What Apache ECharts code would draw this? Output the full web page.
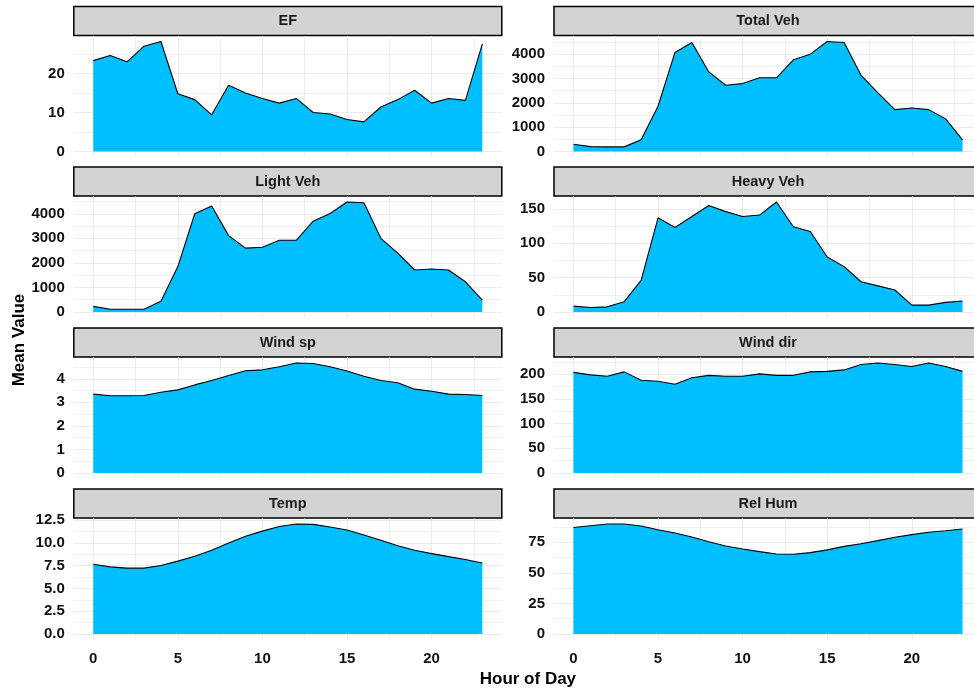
<!DOCTYPE html>
<html><head><meta charset="utf-8">
<script src="https://cdn.jsdelivr.net/npm/echarts@6/dist/echarts.min.js"></script>
<style>html,body{margin:0;padding:0;background:#fff;overflow:hidden}#c{width:1000px;height:691px}</style>
</head><body><div id="c"></div>
<script>
// ---- data ----
const hours = [0,1,2,3,4,5,6,7,8,9,10,11,12,13,14,15,16,17,18,19,20,21,22,23];
const panelNames = ['EF','Total Veh','Light Veh','Heavy Veh','Wind sp','Wind dir','Temp','Rel Hum'];
const ef = [23.3,24.6,23.0,27.0,28.2,14.8,13.3,9.4,17.0,15.0,13.6,12.4,13.6,10.0,9.6,8.2,7.6,11.4,13.3,15.7,12.4,13.6,13.1,27.6];
const totalVeh = [300,200,190,190,480,1860,4070,4480,3270,2720,2790,3030,3030,3770,4000,4520,4480,3130,2410,1720,1790,1720,1340,480];
const lightVeh = [230,110,110,110,440,1850,4000,4320,3110,2600,2640,2920,2920,3700,4010,4480,4450,3000,2400,1710,1750,1710,1230,480];
const heavyVeh = [8.5,6.5,7.5,15,46,137,123,139,155,146,139,141,160,124,117,80,66,44,38,32,10,10,14,16];
const windSp = [3.35,3.28,3.28,3.29,3.43,3.53,3.74,3.93,4.14,4.34,4.38,4.51,4.67,4.65,4.51,4.33,4.11,3.93,3.83,3.56,3.47,3.35,3.33,3.29];
const windDir = [204,199,196,205,188,186,180,193,198,196,196,201,198,198,205,206,209,220,223,220,216,223,216,206];
const temp = [7.66,7.37,7.23,7.23,7.52,8.0,8.54,9.2,10.0,10.73,11.3,11.8,12.08,12.04,11.75,11.42,10.88,10.3,9.7,9.2,8.83,8.5,8.18,7.8];
const relHum = [87.2,88.6,90.0,90.0,88.3,85.3,82.6,79.3,75.5,72.0,69.6,67.4,65.5,65.2,66.6,68.8,71.7,73.9,76.4,79.1,81.3,83.2,84.5,85.9];
const yTickStep = [10,1000,1000,50,1,50,2.5,25];
const xTickStep = 5;
const xLabel = 'Hour of Day';
const yLabel = 'Mean Value';

const panelValues = [ef,totalVeh,lightVeh,heavyVeh,windSp,windDir,temp,relHum];

// ---- layout ----
const colLeft = [73.8, 554];
const plotW = 428;
const rowTop = [36, 196.5, 357.5, 518.5];
const plotH = 121;
const stripH = 30;
const fontFam = '"Liberation Sans", Arial, sans-serif';
const gridColor = '#EBEBEB';

const grids = [], xAxes = [], yAxes = [], series = [], graphics = [];
const xExp = (hours[hours.length-1]-hours[0])*0.05;

panelNames.forEach((name, i) => {
  const col = i % 2, row = Math.floor(i / 2);
  const left = colLeft[col], top = rowTop[row];
  grids.push({left: left, top: top, width: plotW, height: plotH, containLabel: false});
  const isBottom = row === 3;
  xAxes.push({
    type: 'value', gridIndex: i,
    min: hours[0]-xExp, max: hours[hours.length-1]+xExp,
    minInterval: xTickStep, maxInterval: xTickStep,
    axisLine: {show: false}, axisTick: {show: false},
    axisLabel: {show: isBottom, showMinLabel: false, showMaxLabel: false, margin: 12,
      color: '#111', fontWeight: 'bold', fontSize: 15, fontFamily: fontFam},
    splitLine: {show: true, showMinLine: false, showMaxLine: false, lineStyle: {color: gridColor, width: 1.1}},
    minorTick: {show: false, splitNumber: 2},
    minorSplitLine: {show: true, lineStyle: {color: gridColor, width: 0.8}}
  });
  const step = yTickStep[i];
  yAxes.push({
    type: 'value', gridIndex: i,
    min: v => -0.05 * v.max, max: v => 1.05 * v.max,
    minInterval: step, maxInterval: step,
    axisLine: {show: false}, axisTick: {show: false},
    axisLabel: {show: true, showMinLabel: false, showMaxLabel: false, margin: 9,
      color: '#111', fontWeight: 'bold', fontSize: 15, fontFamily: fontFam,
      formatter: step % 1 !== 0 ? (v => v.toFixed(1)) : (v => String(v))},
    splitLine: {show: true, showMinLine: false, showMaxLine: false, lineStyle: {color: gridColor, width: 1.1}},
    minorTick: {show: false, splitNumber: 2},
    minorSplitLine: {show: true, lineStyle: {color: gridColor, width: 0.8}}
  });
  series.push({
    type: 'line', xAxisIndex: i, yAxisIndex: i,
    data: hours.map((h, k) => [h, panelValues[i][k]]),
    showSymbol: false, symbol: 'none', silent: true,
    lineStyle: {color: '#000', width: 1.1},
    areaStyle: {color: '#00BFFF', opacity: 1}
  });
  graphics.push({
    type: 'rect', silent: true,
    shape: {x: left, y: top - stripH + 0.5, width: plotW, height: stripH - 1},
    style: {fill: '#D3D3D3', stroke: '#000', lineWidth: 1.5}
  });
  graphics.push({
    type: 'text', silent: true,
    x: left + plotW / 2, y: top - stripH / 2,
    style: {text: name, fill: '#1a1a1a', font: 'bold 14.5px ' + fontFam, textAlign: 'center', textVerticalAlign: 'middle', verticalAlign: 'middle'}
  });
});

graphics.push({
  type: 'text', silent: true, x: (colLeft[0] + colLeft[1] + plotW) / 2, y: 679,
  style: {text: xLabel, fill: '#000', font: 'bold 17px ' + fontFam, textAlign: 'center', textVerticalAlign: 'middle', verticalAlign: 'middle'}
});
graphics.push({
  type: 'text', silent: true, x: 19.5, y: 340, rotation: Math.PI / 2,
  style: {text: yLabel, fill: '#000', font: 'bold 17px ' + fontFam, textAlign: 'center', textVerticalAlign: 'middle', verticalAlign: 'middle'}
});

const chart = echarts.init(document.getElementById('c'), null, {renderer: 'canvas'});
chart.setOption({
  animation: false,
  backgroundColor: '#fff',
  grid: grids, xAxis: xAxes, yAxis: yAxes, series: series,
  graphic: graphics
});
</script></body></html>
